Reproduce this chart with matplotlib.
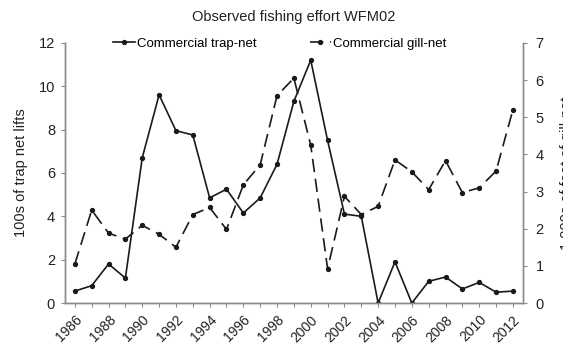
import matplotlib
matplotlib.use('Agg')
import matplotlib.pyplot as plt
import numpy as np

plt.rcParams['font.family'] = ['Liberation Sans', 'DejaVu Sans']

years = np.arange(1986, 2013)
trap_net = [0.55, 0.8, 1.8, 1.15, 6.7, 9.6, 7.95, 7.75, 4.85, 5.25, 4.15,
            4.85, 6.4, 9.3, 11.2, 7.5, 4.1, 4.0, 0.0, 1.9, 0.0, 1.0, 1.2,
            0.65, 0.95, 0.5, 0.55]
gill_net = [1.05, 2.5, 1.88, 1.72, 2.09, 1.85, 1.5, 2.38, 2.57, 1.98, 3.18,
            3.72, 5.58, 6.05, 4.25, 0.92, 2.87, 2.38, 2.6, 3.85, 3.53, 3.05,
            3.83, 2.97, 3.1, 3.55, 5.2]
year_labels = [str(y) for y in range(1986, 2013, 2)]

fig = plt.figure(figsize=(5.63, 3.54), dpi=100)
ax = fig.add_axes([0.115, 0.144, 0.814, 0.735])
ax2 = ax.twinx()

line_col = '#1a1a1a'
axis_col = '#8a8a8a'

l1, = ax.plot(years, trap_net, '-', color=line_col, lw=1.2, marker='o',
              markersize=2.8, label='Commercial trap-net')
l2, = ax2.plot(years, gill_net, '--', color=line_col, lw=1.2, marker='o',
               markersize=2.8, dashes=(8, 4), label='Commercial gill-net')

ax.set_xlim(1985.4, 2012.6)
ax.set_ylim(0, 12)
ax2.set_ylim(0, 7)
ax.set_yticks(range(0, 13, 2))
ax2.set_yticks(range(0, 8))
ax.set_xticks(range(1986, 2013, 2))
ax.set_xticks(years, minor=True)
ax.set_xticklabels(year_labels, rotation=45, ha='right', rotation_mode='anchor')

for a in (ax, ax2):
    a.spines['top'].set_visible(False)
    for s in ('left', 'right', 'bottom'):
        a.spines[s].set_color(axis_col)
        a.spines[s].set_linewidth(1.0)
    a.tick_params(colors=axis_col, labelcolor='#222222', labelsize=10.5,
                  length=3, width=0.8, pad=4)
    a.tick_params(which='minor', colors=axis_col, length=3, width=0.8)
ax.tick_params(axis='x', labelsize=10)
ax2.tick_params(axis='y', pad=6)

ax.set_ylabel('100s of trap net lifts', fontsize=10.5, color='#222222', labelpad=8)
ax2.set_ylabel('1,000s of feet of gill-net', fontsize=10.5, color='#222222', labelpad=12)

ax.set_title('Observed fishing effort WFM02', fontsize=10.5, color='#222222', pad=16)
ax.legend([l1, l2], ['Commercial trap-net', 'Commercial gill-net'], ncol=2,
          loc='upper center', bbox_to_anchor=(0.47, 1.065), frameon=False,
          fontsize=9.5, handlelength=1.6, handletextpad=0.2, columnspacing=4.0)

fig.savefig('out.png', dpi=100)
